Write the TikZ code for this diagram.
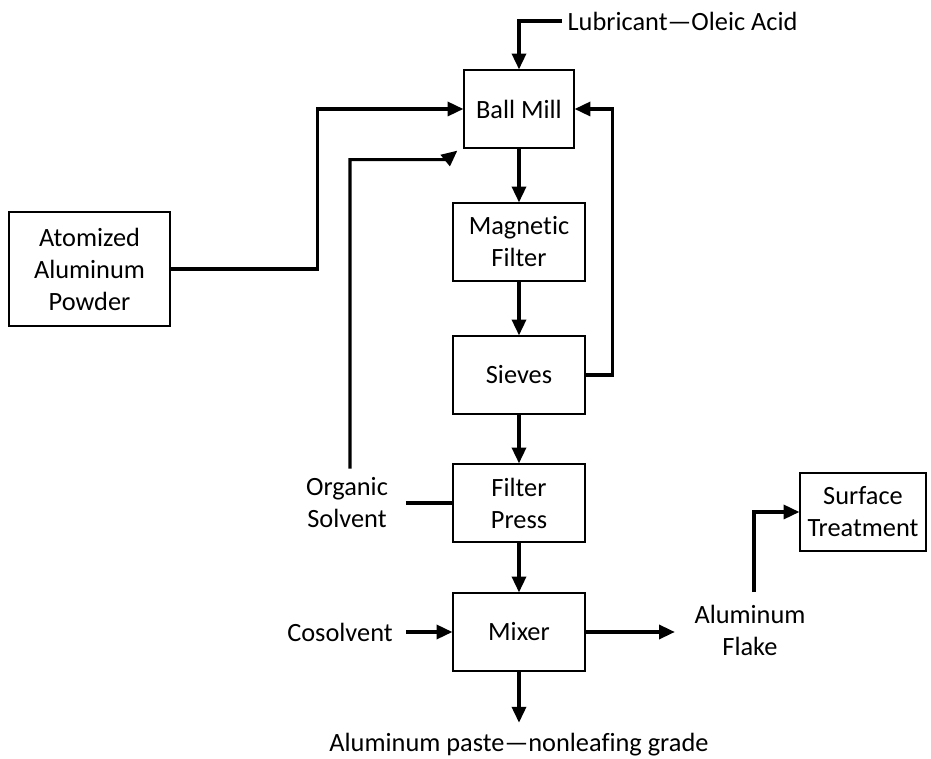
\documentclass[tikz,border=0pt]{standalone}
\usepackage{fontspec}
\setmainfont{Carlito}[Ligatures={TeX,NoCommon}]
\usepackage{tikz}
\usetikzlibrary{calc, arrows.meta}

\tikzset{
    unit/.style={draw, line width=0.7pt, align=center, minimum width=2.64cm, minimum height=1.56cm},
    tag/.style={align=center, inner sep=3pt},
    flow/.style={line width=1.8pt, -{Triangle[length=9pt,width=8pt]}},
    link/.style={line width=1.8pt},
}

\begin{document}
\begin{tikzpicture}[x=0.02cm, y=-0.02cm, font=\fontsize{15}{18.2}\selectfont]
    % \draw[help lines] (0,0) grid[step=50] (931,759);
    \useasboundingbox (0,0) rectangle (931,759);
    \node[unit, minimum width=2.2cm] (mill) at (519,109) {Ball Mill};
    \node[unit] (magnet) at (519,242) {Magnetic\\Filter};
    \node[unit] (sieves) at (519,375) {Sieves};
    \node[unit] (press) at (519,503) {Filter\\Press};
    \node[unit] (mixer) at (519,632) {Mixer};
    \node[unit, minimum width=3.22cm, minimum height=2.28cm] (powder) at (89.5,269) {Atomized\\Aluminum\\Powder};
    \node[unit, minimum width=2.52cm] (surface) at (863,512) {Surface\\Treatment};

    \node[tag, anchor=west] (lube) at (562,21) {Lubricant---Oleic Acid};
    \node[tag] (solvent) at (347,503) {Organic\\Solvent};
    \node[tag] (cosolvent) at (340,632) {Cosolvent};
    \node[tag] (flake) at (750,630) {Aluminum\\Flake};
    \node[tag] (paste) at (519,745) {Aluminum paste---nonleafing grade};

    \foreach \a/\b in {mill/magnet, magnet/sieves, sieves/press, press/mixer}
        \draw[flow] (\a) -- (\b);
    \draw[flow, shorten >=3pt] (mixer) -- (paste);
    \draw[flow] (lube.west) -| (mill.north);
    \draw[flow] (powder.east) -- ++(147,0) |- (mill.west);
    \draw[flow] (sieves.east) -- ++(27,0) |- (mill.east);
    \draw[flow, shorten <=2pt] ([xshift=0.06cm]solvent.north) |- ($(mill.south west)+(-17,11)$) -- ($(mill.south west)+(-6,2)$);
    \draw[link, shorten <=7pt] (solvent.east) -- (press.west);
    \draw[flow, shorten <=4.5pt] (cosolvent.east) -- (mixer.west);
    \draw[flow, shorten >=8pt] (mixer.east) -- (mixer.east -| flake.west);
    \draw[flow, shorten <=4pt] ([xshift=0.08cm]flake.north) |- (surface.west);
\end{tikzpicture}
\end{document}
